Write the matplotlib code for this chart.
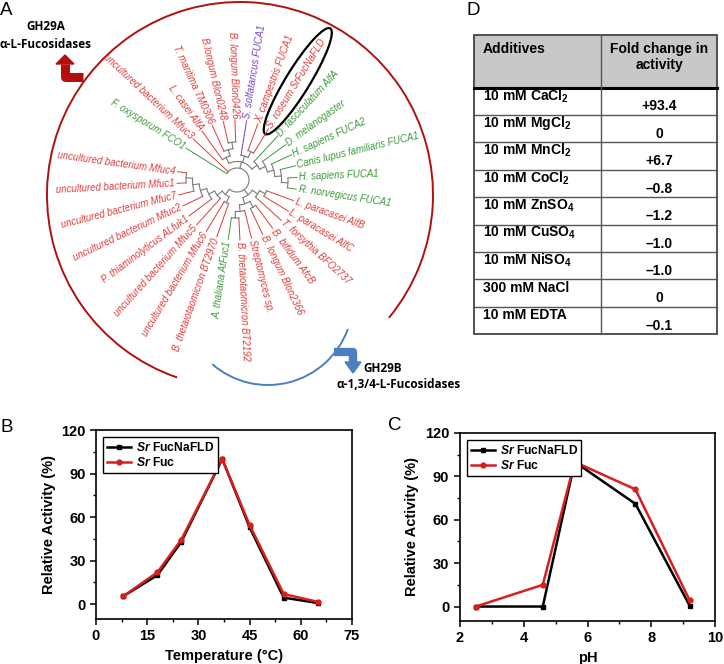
import numpy as np
import matplotlib.pyplot as plt
from matplotlib.patches import Arc, Ellipse, Polygon, Rectangle

plt.rcParams['font.family'] = ['Liberation Sans', 'DejaVu Sans']
plt.rcParams['mathtext.fontset'] = 'custom'
plt.rcParams['mathtext.rm'] = 'Liberation Sans:bold'
plt.rcParams['mathtext.it'] = 'Liberation Sans:italic:bold'
plt.rcParams['mathtext.bf'] = 'Liberation Sans:bold'

# ---- data ----
leaf_names = ["F. oxysporum FCO1", "uncultured bacterium Mfuc3", "L. casei AlfA",
              "T. maritima TM0306", "B.longum Blon0248", "B. longum Blon0426",
              "S. solfataricus FUCA1", "X. campestris FUCA1", "S. roseum SrFucNaFLD",
              "D. fasciculatum AlfA", "D. melanogaster", "H. sapiens FUCA2",
              "Canis lupus familiaris FUCA1", "H. sapiens FUCA1", "R. norvegicus FUCA1",
              "L. paracasei AlfB", "L. paracasei AlfC", "T. forsythia BFO2737",
              "B. bifidum AfcB", "B. longum Blon2366", "Streptomyces sp.",
              "B. thetaiotaomicron BT2192", "A. thaliana AtFuc1",
              "B. thetaiotaomicron BT2970", "uncultured bacterium Mfuc6",
              "uncultured bacterium Mfuc5", "P. thiaminolyticus ALfuk1",
              "uncultured bacterium Mfuc2", "uncultured bacterium Mfuc7",
              "uncultured bacterium Mfuc1", "uncultured bacterium Mfuc4"]
leaf_kind = ["euk", "bac", "bac", "bac", "bac", "bac", "arc", "bac", "bac",
             "euk", "euk", "euk", "euk", "euk", "euk", "bac", "bac", "bac",
             "bac", "bac", "bac", "bac", "euk", "bac", "bac", "bac", "bac",
             "bac", "bac", "bac", "bac"]
# tree topology (leaf indices)
tree = [0, 1,
        [[2, [3, [4, 5]]], [6, [7, 8]], [9, [10, [11, [12, [13, 14]]]]]],
        [[[15, 16], 17], [[18, 19], [20, [21, 22]]]],
        [[23, 24], [25, [26, [27, [28, [29, 30]]]]]]]
highlight = 8

additives = ["10 mM CaCl$_2$", "10 mM MgCl$_2$", "10 mM MnCl$_2$", "10 mM CoCl$_2$",
             "10 mM ZnSO$_4$", "10 mM CuSO$_4$", "10 mM NiSO$_4$", "300 mM NaCl",
             "10 mM EDTA"]
fold_change = ["+93.4", "0", "+6.7", "\u20130.8", "\u20131.2", "\u20131.0",
               "\u20131.0", "0", "\u20130.1"]

temp = [8, 18, 25, 37, 45, 55, 65]
temp_fucnafld = [5.5, 20, 43, 100, 53, 4.5, 0.8]
temp_fuc = [5.5, 22, 44.5, 100, 54.5, 7, 1.6]
ph = [2.5, 4.6, 5.6, 7.5, 9.2]
ph_fucnafld = [0, 0, 100, 71, 0.5]
ph_fuc = [0, 15, 100, 81, 4.2]

kind_color = {"bac": "#e03a3a", "euk": "#3a9a3a", "arc": "#7a3fc0"}
RED = "#d81e1e"
H = 664

fig = plt.figure(figsize=(7.24, 6.64), dpi=100)
ax0 = fig.add_axes([0, 0, 1, 1])
ax0.set_xlim(0, 724)
ax0.set_ylim(0, H)
ax0.axis('off')

# ---- panel A: circular tree ----
cx, cy = 237, H - 180
a_start, a_step = 148.0, 11.2
angles = [a_start - i * a_step for i in range(len(leaf_names))]
R0, STEP, R_LEAF, R_LAB = 12, 6.5, 60, 62


def pol(r, a):
    t = np.deg2rad(a)
    return cx + r * np.cos(t), cy + r * np.sin(t)


def draw(node, depth):
    r_node = R0 + depth * STEP
    ch_angles = []
    for ch in node:
        if isinstance(ch, int):
            a = angles[ch]
            r_end, col, lw = R_LEAF, kind_color[leaf_kind[ch]], 0.7
        else:
            a = draw(ch, depth + 1)
            r_end, col, lw = R0 + (depth + 1) * STEP, "#7a7a7a", 0.8
        x1, y1 = pol(r_node, a)
        x2, y2 = pol(r_end, a)
        ax0.plot([x1, x2], [y1, y2], color=col, lw=lw)
        ch_angles.append(a)
    t = np.linspace(min(ch_angles), max(ch_angles), 60)
    xs, ys = pol(r_node, t)
    ax0.plot(xs, ys, color="#7a7a7a", lw=0.8)
    return (min(ch_angles) + max(ch_angles)) / 2


draw(tree, 0)

for i, name in enumerate(leaf_names):
    a = angles[i]
    an = (a + 180) % 360 - 180
    x, y = pol(R_LAB, a)
    if -90 <= an <= 90:
        rot, ha = an, 'left'
    else:
        rot, ha = an - 180 if an > 0 else an + 180, 'right'
    ax0.text(x, y, name, rotation=rot, ha=ha, va='center', rotation_mode='anchor',
             fontsize=6.9, style='italic', color=kind_color[leaf_kind[i]])

ex, ey = pol(116, angles[highlight])
ax0.add_patch(Ellipse((ex, ey), 124, 24, angle=angles[highlight], fill=False,
                      ec='black', lw=1.6))

ax0.add_patch(Arc((240, H - 195), 386, 386, theta1=-39.5, theta2=251,
                  color="#b01010", lw=1.4))
ax0.add_patch(Arc((268, H - 300), 170, 170, theta1=229, theta2=340,
                  color="#4a80c0", lw=1.4))

# group arrows
ax0.plot([83, 65, 65], [H - 77, H - 77, H - 64], color="#b40f0f", lw=6.5,
         solid_joinstyle='round', solid_capstyle='butt')
ax0.add_patch(Polygon([(56, H - 64), (74, H - 64), (65, H - 55)], color="#b40f0f"))
ax0.text(46, H - 27, "GH29A", ha='center', va='center', fontsize=8.5,
         fontweight='bold', family='Open Sans')
ax0.text(46, H - 44, "\u03b1-L-Fucosidases", ha='center', va='center', fontsize=8.5,
         fontweight='bold', family='Open Sans')

ax0.plot([334, 353, 353], [H - 352, H - 352, H - 362], color="#4a80c0", lw=6,
         solid_joinstyle='round', solid_capstyle='butt')
ax0.add_patch(Polygon([(345, H - 362), (361, H - 362), (353, H - 373)], color="#4a80c0"))
ax0.text(363, H - 368, "GH29B", ha='left', va='center', fontsize=8.5,
         fontweight='bold', family='Open Sans')
ax0.text(399, H - 384, "\u03b1-1,3/4-L-Fucosidases", ha='center', va='center',
         fontsize=8.5, fontweight='bold', family='Open Sans')

# ---- panel D: table ----
tl, tr, tm = 474, 717, 601
t_top, h_bot, row_h = 35, 87.5, 27.4
n = len(additives)
t_bot = h_bot + n * row_h
ax0.add_patch(Rectangle((tl, H - h_bot), tr - tl, h_bot - t_top, fc="#c8c8c8", ec='none'))
for i in range(1, n):
    yy = H - (h_bot + i * row_h)
    ax0.plot([tl, tr], [yy, yy], color="#555555", lw=1.0)
ax0.plot([tl, tr], [H - h_bot, H - h_bot], color='black', lw=2.2)
ax0.plot([tm, tm], [H - t_top, H - t_bot], color="#555555", lw=1.0)
ax0.add_patch(Rectangle((tl, H - t_bot), tr - tl, t_bot - t_top, fill=False,
                        ec="#444444", lw=1.3))
ax0.text(tl + 9, H - 49, "Additives", ha='left', va='center', fontsize=10,
         fontweight='bold')
ax0.text((tm + tr) / 2, H - 49, "Fold change in", ha='center', va='center',
         fontsize=10, fontweight='bold')
ax0.text((tm + tr) / 2, H - 65, "activity", ha='center', va='center',
         fontsize=10, fontweight='bold')
for i, (lab, val) in enumerate(zip(additives, fold_change)):
    top = h_bot + i * row_h
    ax0.text(tl + 9, H - (top + 8.5), lab, ha='left', va='center', fontsize=10,
             fontweight='bold')
    ax0.text((tm + tr) / 2, H - (top + 19), val, ha='center', va='center',
             fontsize=10, fontweight='bold')

# panel letters
for lab, (lx, ly) in {"A": (0, 2), "D": (467, 2), "B": (0, 419), "C": (388, 417)}.items():
    ax0.text(lx, H - ly, lab, ha='left', va='top', fontsize=13.5)


# ---- panels B and C ----
def style(ax, xt, xminor):
    for s in ax.spines.values():
        s.set_linewidth(1.2)
    ax.set_ylim(-10, 120)
    yt = [0, 30, 60, 90, 120]
    ax.set_xticks(xt, labels=[str(v) for v in xt], fontweight='bold', fontsize=10.5)
    ax.set_yticks(yt, labels=[str(v) for v in yt], fontweight='bold', fontsize=10.5)
    ax.set_xticks(xminor, minor=True)
    ax.set_yticks([15, 45, 75, 105], minor=True)
    ax.tick_params(which='major', direction='out', length=4, width=1.1,
                   top=False, right=False)
    ax.tick_params(which='minor', direction='out', length=2.5, width=1)
    ax.set_ylabel("Relative Activity (%)", fontsize=10.5, fontweight='bold')
    leg = ax.legend(loc='upper left', prop={'weight': 'bold', 'size': 8.7},
                    fancybox=False, edgecolor='black', framealpha=1,
                    handlelength=2.0, borderpad=0.3, labelspacing=0.2,
                    handletextpad=0.4, borderaxespad=0.6)
    leg.get_frame().set_linewidth(1.0)


axB = fig.add_axes([96 / 724, 45.3 / H, 256 / 724, 188.7 / H])
axB.plot(temp, temp_fucnafld, color='black', marker='s', ms=3.5, lw=1.8,
         label=r"$\mathit{Sr}$ FucNaFLD")
axB.plot(temp, temp_fuc, color=RED, marker='o', ms=3.5, lw=1.8,
         label=r"$\mathit{Sr}$ Fuc")
axB.set_xlim(0, 75)
axB.set_xlabel("Temperature (\u00b0C)", fontsize=10.5, fontweight='bold')
style(axB, [0, 15, 30, 45, 60, 75], [7.5, 22.5, 37.5, 52.5, 67.5])

axC = fig.add_axes([459.7 / 724, 43 / H, 255.6 / 724, 188 / H])
axC.plot(ph, ph_fucnafld, color='black', marker='s', ms=3.5, lw=1.8,
         label=r"$\mathit{Sr}$ FucNaFLD")
axC.plot(ph, ph_fuc, color=RED, marker='o', ms=3.5, lw=1.8,
         label=r"$\mathit{Sr}$ Fuc")
axC.set_xlim(2, 10)
axC.set_xlabel("pH", fontsize=10.5, fontweight='bold')
style(axC, [2, 4, 6, 8, 10], [3, 5, 7, 9])

fig.savefig("out.png", dpi=100)
